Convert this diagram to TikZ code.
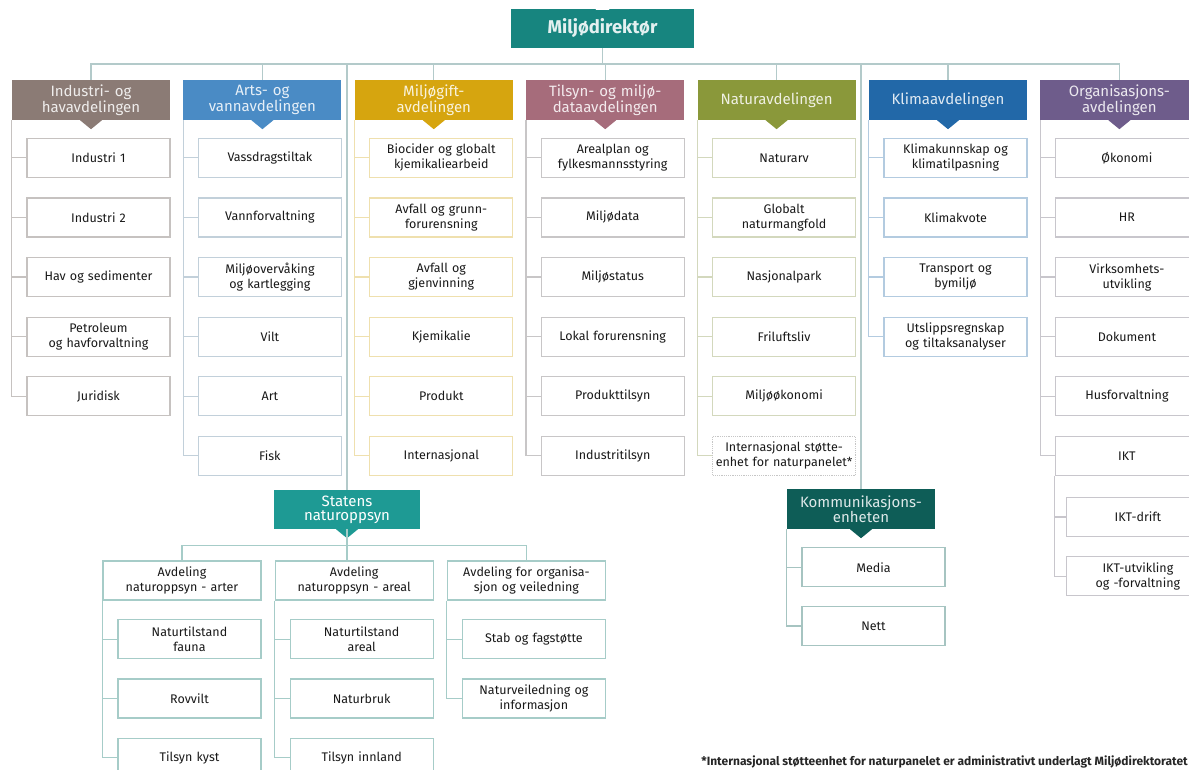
\documentclass[tikz,border=0pt]{standalone}
\usepackage{fontspec}
\setmainfont{Fira Sans}
\usepackage{tikz}
\usetikzlibrary{positioning,calc}

\definecolor{dirc}{HTML}{17857F}
\definecolor{indc}{HTML}{8B7B75}
\definecolor{artc}{HTML}{4A8BC5}
\definecolor{giftc}{HTML}{D6A50F}
\definecolor{tilsc}{HTML}{A66C7B}
\definecolor{natc}{HTML}{8A983A}
\definecolor{klimac}{HTML}{2268A8}
\definecolor{orgc}{HTML}{6E5C8B}
\definecolor{snoc}{HTML}{1E9A94}
\definecolor{komc}{HTML}{0E5D57}
\definecolor{busc}{HTML}{B3CACA}
\definecolor{indl}{HTML}{C6C2C0}
\definecolor{artl}{HTML}{C2D0DA}
\definecolor{giftl}{HTML}{EFE0AE}
\definecolor{tilsl}{HTML}{C8C6C7}
\definecolor{natl}{HTML}{D3D8BD}
\definecolor{klimal}{HTML}{B3CBE0}
\definecolor{orgl}{HTML}{C8C6CC}
\definecolor{snol}{HTML}{A6CCC8}
\definecolor{koml}{HTML}{A6C4C1}

% small pointer under a header box
\newcommand{\deptarrow}[2]{\fill[#2] ([xshift=-11pt]#1.south) -- ([xshift=11pt]#1.south) -- ([yshift=-9pt]#1.south) -- cycle;}

\begin{document}
\begin{tikzpicture}[
    x=1pt, y=-1pt,
    dirbox/.style={
        rectangle,
        fill=dirc,
        minimum width=183pt,
        minimum height=39pt,
        inner sep=0pt,
        text=white!88!dirc,
        font=\fontsize{18.5}{19}\selectfont\bfseries
    },
    dept/.style={
        rectangle,
        fill=#1,
        minimum width=158pt,
        minimum height=40pt,
        text width=152pt,
        inner sep=0pt,
        align=center,
        text=white!86!#1,
        font=\fontsize{15}{14}\selectfont
    },
    unitbox/.style={
        rectangle,
        draw=#1,
        line width=1.2pt,
        fill=white,
        minimum width=143pt,
        minimum height=39pt,
        text width=139pt,
        inner sep=0pt,
        align=center,
        text=black!90,
        font=\fontsize{12.5}{15}\selectfont
    },
    subdept/.style={
        unitbox=snol,
        minimum width=158pt,
        text width=152pt
    },
    conn/.style={
        draw=#1,
        line width=1.2pt
    },
    trunk/.style={
        draw=busc,
        line width=1.3pt
    },
    note/.style={
        font=\fontsize{12}{13}\selectfont\bfseries,
        text=black!85,
        inner sep=0pt
    }
]
\useasboundingbox (0,0) rectangle (1189,769);

% Director
\node[dirbox] (dir) at (602.5,28.5) {Miljødirektør};
\fill[white] ([xshift=-7pt,yshift=-1pt]dir.north) -- ([xshift=7pt,yshift=-1pt]dir.north) -- ([yshift=6pt]dir.north) -- cycle;

% Departments
\node[dept=indc] (ind) at (91,100) {Industri- og\\havavdelingen};
\node[dept=artc, right=13pt of ind] (art) {Arts- og\\vannavdelingen};
\node[dept=giftc, right=13pt of art] (gift) {Miljøgift-\\avdelingen};
\node[dept=tilsc, right=13pt of gift] (tils) {Tilsyn- og miljø-\\dataavdelingen};
\node[dept=natc, right=13pt of tils] (nat) {Naturavdelingen};
\node[dept=klimac, right=13pt of nat] (klima) {Klimaavdelingen};
\node[dept=orgc, right=13pt of klima] (org) {Organisasjons-\\avdelingen};

\deptarrow{ind}{indc}
\deptarrow{art}{artc}
\deptarrow{gift}{giftc}
\deptarrow{tils}{tilsc}
\deptarrow{nat}{natc}
\deptarrow{klima}{klimac}
\deptarrow{org}{orgc}

% Units: Industri- og havavdelingen
\node[unitbox=indl, below=17.5pt of ind, xshift=7.5pt] (ind1) {Industri 1};
\node[unitbox=indl, below=19.4pt of ind1] (ind2) {Industri 2};
\node[unitbox=indl, below=19.4pt of ind2] (ind3) {Hav og sedimenter};
\node[unitbox=indl, below=19.4pt of ind3] (ind4) {Petroleum\\og havforvaltning};
\node[unitbox=indl, below=19.4pt of ind4] (ind5) {Juridisk};

% Units: Arts- og vannavdelingen
\node[unitbox=artl, below=17.5pt of art, xshift=7.5pt] (art1) {Vassdragstiltak};
\node[unitbox=artl, below=19.4pt of art1] (art2) {Vannforvaltning};
\node[unitbox=artl, below=19.4pt of art2] (art3) {Miljøovervåking\\og kartlegging};
\node[unitbox=artl, below=19.4pt of art3] (art4) {Vilt};
\node[unitbox=artl, below=19.4pt of art4] (art5) {Art};
\node[unitbox=artl, below=19.4pt of art5] (art6) {Fisk};

% Units: Miljøgiftavdelingen
\node[unitbox=giftl, below=17.5pt of gift, xshift=7.5pt] (gift1) {Biocider og globalt\\kjemikaliearbeid};
\node[unitbox=giftl, below=19.4pt of gift1] (gift2) {Avfall og grunn-\\forurensning};
\node[unitbox=giftl, below=19.4pt of gift2] (gift3) {Avfall og\\gjenvinning};
\node[unitbox=giftl, below=19.4pt of gift3] (gift4) {Kjemikalie};
\node[unitbox=giftl, below=19.4pt of gift4] (gift5) {Produkt};
\node[unitbox=giftl, below=19.4pt of gift5] (gift6) {Internasjonal};

% Units: Tilsyn- og miljødataavdelingen
\node[unitbox=tilsl, below=17.5pt of tils, xshift=7.5pt] (tils1) {Arealplan og\\fylkesmannsstyring};
\node[unitbox=tilsl, below=19.4pt of tils1] (tils2) {Miljødata};
\node[unitbox=tilsl, below=19.4pt of tils2] (tils3) {Miljøstatus};
\node[unitbox=tilsl, below=19.4pt of tils3] (tils4) {Lokal forurensning};
\node[unitbox=tilsl, below=19.4pt of tils4] (tils5) {Produkttilsyn};
\node[unitbox=tilsl, below=19.4pt of tils5] (tils6) {Industritilsyn};

% Units: Naturavdelingen
\node[unitbox=natl, below=17.5pt of nat, xshift=7.5pt] (nat1) {Naturarv};
\node[unitbox=natl, below=19.4pt of nat1] (nat2) {Globalt\\naturmangfold};
\node[unitbox=natl, below=19.4pt of nat2] (nat3) {Nasjonalpark};
\node[unitbox=natl, below=19.4pt of nat3] (nat4) {Friluftsliv};
\node[unitbox=natl, below=19.4pt of nat4] (nat5) {Miljøøkonomi};
\node[unitbox=gray!45, densely dotted, below=19.4pt of nat5] (nat6) {Internasjonal støtte-\\enhet for naturpanelet*};

% Units: Klimaavdelingen
\node[unitbox=klimal, below=17.5pt of klima, xshift=7.5pt] (klima1) {Klimakunnskap og\\klimatilpasning};
\node[unitbox=klimal, below=19.4pt of klima1] (klima2) {Klimakvote};
\node[unitbox=klimal, below=19.4pt of klima2] (klima3) {Transport og\\bymiljø};
\node[unitbox=klimal, below=19.4pt of klima3] (klima4) {Utslippsregnskap\\og tiltaksanalyser};

% Units: Organisasjonsavdelingen
\node[unitbox=orgl, below=17.5pt of org, xshift=7.5pt] (org1) {Økonomi};
\node[unitbox=orgl, below=19.4pt of org1] (org2) {HR};
\node[unitbox=orgl, below=19.4pt of org2] (org3) {Virksomhets-\\utvikling};
\node[unitbox=orgl, below=19.4pt of org3] (org4) {Dokument};
\node[unitbox=orgl, below=19.4pt of org4] (org5) {Husforvaltning};
\node[unitbox=orgl, below=19.4pt of org5] (org6) {IKT};
\node[unitbox=orgl, below=21pt of org6, xshift=11pt] (ikt1) {IKT-drift};
\node[unitbox=orgl, below=19pt of ikt1] (ikt2) {IKT-utvikling\\og -forvaltning};

% Statens naturoppsyn
\node[dept=snoc, minimum width=146pt, minimum height=39pt, text width=140pt, text=white] (sno) at (347,509.5) {Statens\\naturoppsyn};
\deptarrow{sno}{snoc}
\node[subdept] (snoA) at (182,580.5) {Avdeling\\naturoppsyn - arter};
\node[subdept, right=13pt of snoA] (snoB) {Avdeling\\naturoppsyn - areal};
\node[subdept, right=13pt of snoB] (snoC) {Avdeling for organisa-\\sjon og veiledning};

\node[unitbox=snol, below=18.5pt of snoA, xshift=7.5pt] (snoA1) {Naturtilstand\\fauna};
\node[unitbox=snol, below=19pt of snoA1] (snoA2) {Rovvilt};
\node[unitbox=snol, below=19pt of snoA2] (snoA3) {Tilsyn kyst};
\node[unitbox=snol, below=18.5pt of snoB, xshift=7.5pt] (snoB1) {Naturtilstand\\areal};
\node[unitbox=snol, below=19pt of snoB1] (snoB2) {Naturbruk};
\node[unitbox=snol, below=19pt of snoB2] (snoB3) {Tilsyn innland};
\node[unitbox=snol, below=18.5pt of snoC, xshift=7.5pt] (snoC1) {Stab og fagstøtte};
\node[unitbox=snol, below=19pt of snoC1] (snoC2) {Naturveiledning og\\informasjon};

% Kommunikasjonsenheten
\node[dept=komc, minimum width=148pt, text width=144pt] (kom) at (861,509) {Kommunikasjons-\\enheten};
\deptarrow{kom}{komc}
\node[unitbox=koml, below=18pt of kom, xshift=12.5pt] (kom1) {Media};
\node[unitbox=koml, below=18.5pt of kom1] (kom2) {Nett};

% Lines from the director
\coordinate (bus) at (0,64);
\draw[trunk] (dir.south) -- (dir.south |- bus);
\draw[trunk] (ind.north) |- (org.north |- bus) -- (org.north);
\draw[trunk] (art.north) -- (art.north |- bus);
\draw[trunk] (gift.north) -- (gift.north |- bus);
\draw[trunk] (tils.north) -- (tils.north |- bus);
\draw[trunk] (nat.north) -- (nat.north |- bus);
\draw[trunk] (klima.north) -- (klima.north |- bus);
\draw[trunk] (sno.north) -- (sno.north |- bus);
\draw[trunk] (kom.north) -- (kom.north |- bus);

% Lines to units
\draw[conn=indl] (ind.south west) |- (ind1.west) (ind.south west) |- (ind2.west) (ind.south west) |- (ind3.west)
    (ind.south west) |- (ind4.west) (ind.south west) |- (ind5.west);
\draw[conn=artl] (art.south west) |- (art1.west) (art.south west) |- (art2.west) (art.south west) |- (art3.west)
    (art.south west) |- (art4.west) (art.south west) |- (art5.west) (art.south west) |- (art6.west);
\draw[conn=giftl] (gift.south west) |- (gift1.west) (gift.south west) |- (gift2.west) (gift.south west) |- (gift3.west)
    (gift.south west) |- (gift4.west) (gift.south west) |- (gift5.west) (gift.south west) |- (gift6.west);
\draw[conn=tilsl] (tils.south west) |- (tils1.west) (tils.south west) |- (tils2.west) (tils.south west) |- (tils3.west)
    (tils.south west) |- (tils4.west) (tils.south west) |- (tils5.west) (tils.south west) |- (tils6.west);
\draw[conn=natl] (nat.south west) |- (nat1.west) (nat.south west) |- (nat2.west) (nat.south west) |- (nat3.west)
    (nat.south west) |- (nat4.west) (nat.south west) |- (nat5.west) (nat.south west) |- (nat6.west);
\draw[conn=klimal] (klima.south west) |- (klima1.west) (klima.south west) |- (klima2.west)
    (klima.south west) |- (klima3.west) (klima.south west) |- (klima4.west);
\draw[conn=orgl] (org.south west) |- (org1.west) (org.south west) |- (org2.west) (org.south west) |- (org3.west)
    (org.south west) |- (org4.west) (org.south west) |- (org5.west) (org.south west) |- (org6.west);
\draw[conn=orgl] (org6.south west) |- (ikt1.west) (org6.south west) |- (ikt2.west);

% Statens naturoppsyn lines
\coordinate (snobus) at (0,545.5);
\draw[conn=snol] (sno.south) -- (sno.south |- snoB.north);
\draw[conn=snol] (snoA.north) |- (snoC.north |- snobus) -- (snoC.north);
\draw[conn=snol] (snoA.south west) |- (snoA1.west) (snoA.south west) |- (snoA2.west) (snoA.south west) |- (snoA3.west);
\draw[conn=snol] (snoB.south west) |- (snoB1.west) (snoB.south west) |- (snoB2.west) (snoB.south west) |- (snoB3.west);
\draw[conn=snol] (snoC.south west) |- (snoC1.west) (snoC.south west) |- (snoC2.west);
\draw[conn=koml] (kom.south west) |- (kom1.west) (kom.south west) |- (kom2.west);

% Footnote
\node[note, anchor=east] (note) at (1188,762) {*Internasjonal støtteenhet for naturpanelet er administrativt underlagt Miljødirektoratet};

\end{tikzpicture}
\end{document}
